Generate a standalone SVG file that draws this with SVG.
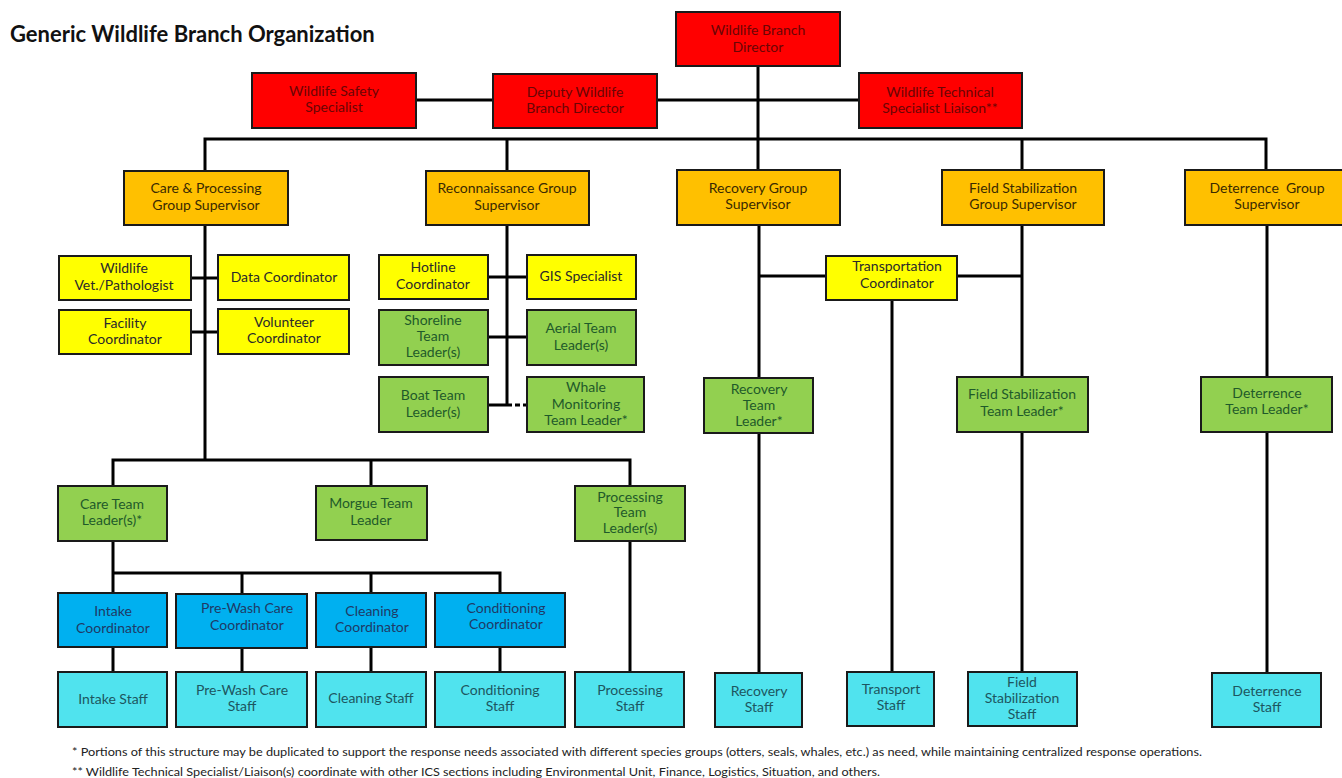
<svg xmlns="http://www.w3.org/2000/svg" width="1342" height="778" viewBox="0 0 1342 778">
<style>
text{font-family:Lato,"Liberation Sans",sans-serif;font-size:14px;text-anchor:middle}
.b{stroke:#1a1a1a;stroke-width:2}
.red{fill:#FF0000}.org{fill:#FFC000}.yel{fill:#FFFF00}.grn{fill:#92D050}.blu{fill:#00B0F0}.cyn{fill:#50E3EE}
.tr{fill:#6a0505}.to{fill:#3a2a00}.ty{fill:#2a2a2a}.tg{fill:#1f5a2a}.tb{fill:#1f3a66}.tc{fill:#1d5660}
.c{stroke:#000;stroke-width:3;fill:none}
.title{font-weight:bold;font-size:22px;text-anchor:start;fill:#111}
.fn{font-size:11px;text-anchor:start;fill:#222}
</style>
<text class="title" x="10" y="42">Generic Wildlife Branch Organization</text>
<g id="connectors">
<path class="c" d="M758 66V170"/>
<path class="c" d="M416 100H493M657 100H859"/>
<path class="c" d="M205 170V139H1266V170M507 139V170M1022 139V170"/>
<path class="c" d="M205 225V460M191 278H218M191 332H218"/>
<path class="c" d="M113 486V460H630V486M371 460V486"/>
<path class="c" d="M113 541V593M113 573H500V593M242 573V594M371 573V593"/>
<path class="c" d="M113 647V672M242 648V672M371 647V672M500 647V672"/>
<path class="c" d="M630 541V672"/>
<path class="c" d="M507 225V405M488 277H527M488 337H527M488 405H507"/>
<path class="c" d="M507 405H527" stroke-dasharray="5 3"/>
<path class="c" d="M759 225V378M759 433V673M759 276H826M957 276H1022"/>
<path class="c" d="M892 300V672"/>
<path class="c" d="M1022 225V377M1022 432V672"/>
<path class="c" d="M1267 225V377M1267 432V673"/>
</g>
<g id="director"><rect class="b red" x="676" y="12" width="164" height="54"/><text class="tr" x="758" y="35">Wildlife Branch</text><text class="tr" x="758" y="52">Director</text></g>
<g id="safety"><rect class="b red" x="252" y="73" width="164" height="55"/><text class="tr" x="334" y="96">Wildlife Safety</text><text class="tr" x="334" y="112">Specialist</text></g>
<g id="deputy"><rect class="b red" x="493" y="74" width="164" height="54"/><text class="tr" x="575" y="97">Deputy Wildlife</text><text class="tr" x="575" y="113">Branch Director</text></g>
<g id="technical"><rect class="b red" x="859" y="73" width="163" height="55"/><text class="tr" x="940" y="97">Wildlife Technical</text><text class="tr" x="940" y="113">Specialist Liaison**</text></g>

<g id="care-proc"><rect class="b org" x="124" y="171" width="164" height="54"/><text class="to" x="206" y="193">Care &amp; Processing</text><text class="to" x="206" y="210">Group Supervisor</text></g>
<g id="recon"><rect class="b org" x="426" y="171" width="163" height="54"/><text class="to" x="507" y="193">Reconnaissance Group</text><text class="to" x="507" y="210">Supervisor</text></g>
<g id="recovery"><rect class="b org" x="677" y="170" width="163" height="55"/><text class="to" x="758" y="193">Recovery Group</text><text class="to" x="758" y="209">Supervisor</text></g>
<g id="fieldstab"><rect class="b org" x="942" y="170" width="162" height="55"/><text class="to" x="1023" y="193">Field Stabilization</text><text class="to" x="1023" y="209">Group Supervisor</text></g>
<g id="deterrence"><rect class="b org" x="1185" y="170" width="164" height="55"/><text class="to" x="1267" y="193" xml:space="preserve">Deterrence  Group</text><text class="to" x="1267" y="209">Supervisor</text></g>

<g id="vet"><rect class="b yel" x="59" y="256" width="132" height="44"/><text class="ty" x="124" y="273">Wildlife</text><text class="ty" x="124" y="290">Vet./Pathologist</text></g>
<g id="data"><rect class="b yel" x="218" y="255" width="131" height="45"/><text class="ty" x="284" y="282">Data Coordinator</text></g>
<g id="facility"><rect class="b yel" x="59" y="310" width="132" height="44"/><text class="ty" x="125" y="328">Facility</text><text class="ty" x="125" y="344">Coordinator</text></g>
<g id="volunteer"><rect class="b yel" x="218" y="309" width="131" height="45"/><text class="ty" x="284" y="327">Volunteer</text><text class="ty" x="284" y="343">Coordinator</text></g>

<g id="hotline"><rect class="b yel" x="379" y="255" width="109" height="44"/><text class="ty" x="433" y="272">Hotline</text><text class="ty" x="433" y="289">Coordinator</text></g>
<g id="gis"><rect class="b yel" x="527" y="255" width="109" height="44"/><text class="ty" x="581" y="281">GIS Specialist</text></g>
<g id="shoreline"><rect class="b grn" x="379" y="310" width="109" height="55"/><text class="tg" x="433" y="325">Shoreline</text><text class="tg" x="433" y="341">Team</text><text class="tg" x="433" y="357">Leader(s)</text></g>
<g id="aerial"><rect class="b grn" x="527" y="310" width="109" height="55"/><text class="tg" x="581" y="333">Aerial Team</text><text class="tg" x="581" y="350">Leader(s)</text></g>
<g id="boat"><rect class="b grn" x="379" y="377" width="109" height="55"/><text class="tg" x="433" y="400">Boat Team</text><text class="tg" x="433" y="417">Leader(s)</text></g>
<g id="whale"><rect class="b grn" x="527" y="377" width="117" height="55"/><text class="tg" x="586" y="392">Whale</text><text class="tg" x="586" y="409">Monitoring</text><text class="tg" x="586" y="425">Team Leader*</text></g>

<g id="transportation"><rect class="b yel" x="826" y="256" width="131" height="44"/><text class="ty" x="897" y="271">Transportation</text><text class="ty" x="897" y="288">Coordinator</text></g>
<g id="recovery-tl"><rect class="b grn" x="704" y="378" width="109" height="55"/><text class="tg" x="759" y="394">Recovery</text><text class="tg" x="759" y="410">Team</text><text class="tg" x="759" y="426">Leader*</text></g>
<g id="fieldstab-tl"><rect class="b grn" x="957" y="377" width="131" height="55"/><text class="tg" x="1022" y="399">Field Stabilization</text><text class="tg" x="1022" y="416">Team Leader*</text></g>
<g id="deterrence-tl"><rect class="b grn" x="1201" y="377" width="131" height="55"/><text class="tg" x="1267" y="398">Deterrence</text><text class="tg" x="1267" y="414">Team Leader*</text></g>

<g id="care-tl"><rect class="b grn" x="58" y="486" width="109" height="55"/><text class="tg" x="112" y="509">Care Team</text><text class="tg" x="112" y="525">Leader(s)*</text></g>
<g id="morgue-tl"><rect class="b grn" x="316" y="486" width="111" height="54"/><text class="tg" x="371" y="508">Morgue Team</text><text class="tg" x="371" y="525">Leader</text></g>
<g id="processing-tl"><rect class="b grn" x="575" y="486" width="110" height="55"/><text class="tg" x="630" y="502">Processing</text><text class="tg" x="630" y="517">Team</text><text class="tg" x="630" y="533">Leader(s)</text></g>

<g id="intake-c"><rect class="b blu" x="58" y="593" width="109" height="54"/><text class="tb" x="113" y="616">Intake</text><text class="tb" x="113" y="633">Coordinator</text></g>
<g id="prewash-c"><rect class="b blu" x="176" y="594" width="131" height="54"/><text class="tb" x="247" y="613">Pre-Wash Care</text><text class="tb" x="247" y="630">Coordinator</text></g>
<g id="cleaning-c"><rect class="b blu" x="316" y="593" width="110" height="54"/><text class="tb" x="372" y="616">Cleaning</text><text class="tb" x="372" y="632">Coordinator</text></g>
<g id="conditioning-c"><rect class="b blu" x="435" y="593" width="130" height="54"/><text class="tb" x="506" y="613">Conditioning</text><text class="tb" x="506" y="629">Coordinator</text></g>

<g id="intake-s"><rect class="b cyn" x="58" y="672" width="109" height="55"/><text class="tc" x="113" y="704">Intake Staff</text></g>
<g id="prewash-s"><rect class="b cyn" x="176" y="672" width="131" height="55"/><text class="tc" x="242" y="695">Pre-Wash Care</text><text class="tc" x="242" y="711">Staff</text></g>
<g id="cleaning-s"><rect class="b cyn" x="316" y="672" width="110" height="55"/><text class="tc" x="371" y="703">Cleaning Staff</text></g>
<g id="conditioning-s"><rect class="b cyn" x="435" y="672" width="130" height="55"/><text class="tc" x="500" y="695">Conditioning</text><text class="tc" x="500" y="711">Staff</text></g>
<g id="processing-s"><rect class="b cyn" x="575" y="672" width="109" height="55"/><text class="tc" x="630" y="695">Processing</text><text class="tc" x="630" y="711">Staff</text></g>
<g id="recovery-s"><rect class="b cyn" x="715" y="673" width="87" height="54"/><text class="tc" x="759" y="696">Recovery</text><text class="tc" x="759" y="712">Staff</text></g>
<g id="transport-s"><rect class="b cyn" x="847" y="672" width="87" height="54"/><text class="tc" x="891" y="694">Transport</text><text class="tc" x="891" y="710">Staff</text></g>
<g id="fieldstab-s"><rect class="b cyn" x="968" y="672" width="109" height="54"/><text class="tc" x="1022" y="687">Field</text><text class="tc" x="1022" y="703">Stabilization</text><text class="tc" x="1022" y="719">Staff</text></g>
<g id="deterrence-s"><rect class="b cyn" x="1212" y="673" width="109" height="54"/><text class="tc" x="1267" y="696">Deterrence</text><text class="tc" x="1267" y="712">Staff</text></g>

<text class="fn" x="72" y="756" textLength="1130" lengthAdjust="spacingAndGlyphs">* Portions of this structure may be duplicated to support the response needs associated with different species groups (otters, seals, whales, etc.) as need, while maintaining centralized response operations.</text>
<text class="fn" x="72" y="776" textLength="808" lengthAdjust="spacingAndGlyphs">** Wildlife Technical Specialist/Liaison(s) coordinate with other ICS sections including Environmental Unit, Finance, Logistics, Situation, and others.</text>
</svg>
